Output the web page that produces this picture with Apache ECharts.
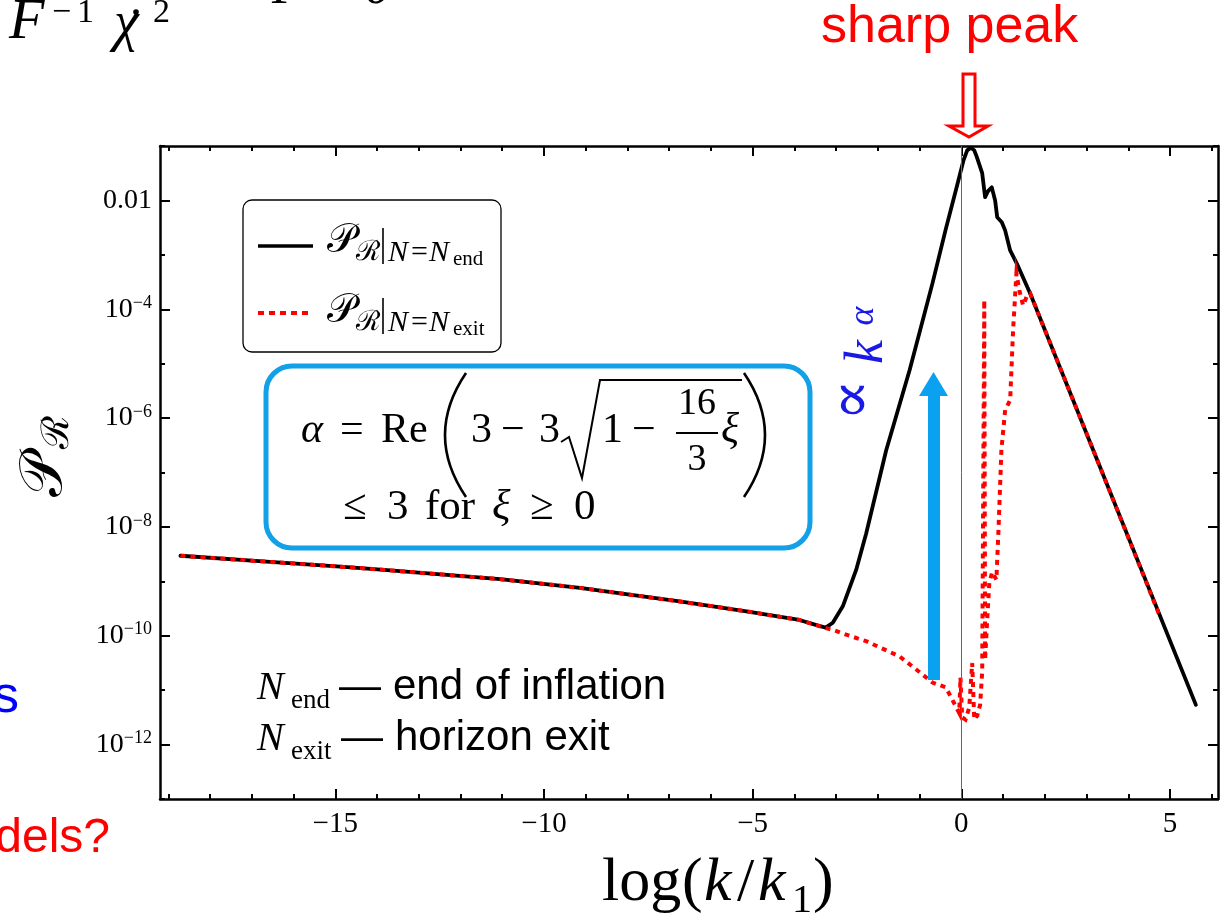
<!DOCTYPE html>
<html><head><meta charset="utf-8">
<script src="https://cdn.jsdelivr.net/npm/echarts@6/dist/echarts.min.js"></script>
<style>html,body{margin:0;padding:0;background:#fff}#c{width:1225px;height:924px}</style>
</head><body><div id="c"></div>
<script>
// ---- data (x = log(k/k1), y = log10 of P_R) ----
const xTicksMajor = [-15, -10, -5, 0, 5];
const xTickLabels = ['\u221215', '\u221210', '\u22125', '0', '5'];
const xTicksMinor = [-19, -18, -17, -16, -14, -13, -12, -11, -9, -8, -7, -6, -4, -3, -2, -1, 1, 2, 3, 4, 6];
const yTicksMajor = [-12, -10, -8, -6, -4, -2];
const yTickLabels = ['10^\u221212', '10^\u221210', '10^\u22128', '10^\u22126', '10^\u22124', '0.01'];
const yTicksMinor = [-13, -11, -9, -7, -5, -3, -1];

const blackX = [-18.71, -17.0, -14.88, -13.83, -11.05, -9.14, -6.75, -5.15, -3.88, -3.45, -3.25, -3.08, -2.84, -2.52, -2.28, -1.80, -1.24, -0.69, -0.38, -0.10, 0.05, 0.14, 0.23, 0.31, 0.37, 0.50, 0.57, 0.64, 0.73, 0.81, 0.86, 0.97, 1.05, 1.17, 1.33, 1.65, 3.13, 5.62];
const blackLog = [-8.53, -8.62, -8.73, -8.79, -8.96, -9.12, -9.37, -9.55, -9.71, -9.81, -9.85, -9.76, -9.46, -8.79, -8.12, -6.59, -5.12, -3.52, -2.55, -1.72, -1.27, -1.08, -1.03, -1.08, -1.20, -1.50, -1.94, -1.83, -1.76, -2.00, -2.31, -2.40, -2.55, -2.92, -3.16, -3.71, -6.53, -11.27];

const redX = [-18.71, -17.0, -14.88, -13.83, -11.05, -9.14, -6.75, -5.15, -3.88, -3.45, -3.25, -3.08, -2.76, -2.28, -1.48, -1.08, -0.69, -0.37, -0.22, -0.05, -0.02, 0.02, 0.10, 0.19, 0.26, 0.31, 0.38, 0.45, 0.50, 0.55, 0.57, 0.62, 0.67, 0.74, 0.84, 0.89, 0.96, 1.05, 1.17, 1.24, 1.32, 1.39, 1.48, 1.58, 1.65, 3.13, 4.74];
const redLog = [-8.53, -8.62, -8.73, -8.79, -8.96, -9.12, -9.37, -9.55, -9.71, -9.81, -9.86, -9.89, -9.98, -10.10, -10.38, -10.62, -10.86, -10.95, -11.17, -11.42, -10.77, -11.50, -11.54, -11.32, -10.50, -11.54, -11.47, -11.27, -10.66, -3.83, -10.44, -9.71, -9.03, -8.83, -8.97, -8.06, -6.59, -5.85, -5.67, -4.39, -3.34, -3.65, -3.93, -3.74, -3.71, -6.53, -9.61];

const XMIN = -19.2, XMAX = 6.15, YMIN = -13, YMAX = -1;

// ---- styling helpers ----
const SERIF = "'Liberation Serif','DejaVu Serif',serif";
const SANS = "'Liberation Sans',Arial,sans-serif";
function txt(s, x, base, fs, o) {
  o = o || {};
  return {type: 'text', x: x, y: base - 0.34 * fs, z: 100, silent: true,
    style: {text: s, x: 0, y: 0, fontSize: fs, fontFamily: o.ff || SERIF,
      fontStyle: o.it ? 'italic' : 'normal', fill: o.c || '#000',
      align: o.al || 'left', textAlign: o.al || 'left', verticalAlign: 'middle', textVerticalAlign: 'middle'}};
}
function rtxt(s, cx, cy, fs, o) {
  o = o || {};
  return {type: 'text', x: cx, y: cy, rotation: Math.PI / 2, z: 100, silent: true,
    style: {text: s, x: 0, y: 0, fontSize: fs, fontFamily: o.ff || SERIF,
      fontStyle: o.it ? 'italic' : 'normal', fill: o.c || '#000',
      align: 'center', textAlign: 'center', verticalAlign: 'middle', textVerticalAlign: 'middle'}};
}
function ln(x1, y1, x2, y2, c, w, dash) {
  return {type: 'line', z: 100, silent: true, shape: {x1, y1, x2, y2},
    style: {stroke: c, lineWidth: w, lineDash: dash || null, lineCap: 'butt'}};
}

const axisBase = (pos, ticks, len, showLine) => ({
  type: 'value', position: pos, min: null, max: null,
  axisLine: {show: showLine, onZero: false, lineStyle: {color: '#000', width: 2.5}},
  axisTick: {show: true, inside: true, length: len, customValues: ticks, lineStyle: {color: '#000', width: 2}},
  axisLabel: {show: false},
  splitLine: {show: false}
});
function xa(pos, ticks, len, showLine) { const a = axisBase(pos, ticks, len, showLine); a.min = XMIN; a.max = XMAX; return a; }
function ya(pos, ticks, len, showLine) { const a = axisBase(pos, ticks, len, showLine); a.min = YMIN; a.max = YMAX; return a; }

const xMain = xa('bottom', xTicksMajor, 10, true);
xMain.axisLabel = {show: true, customValues: xTicksMajor, margin: 11, color: '#000', fontSize: 29, fontFamily: SERIF,
  formatter: v => xTickLabels[xTicksMajor.indexOf(v)]};
const yMain = ya('left', yTicksMajor, 10, true);
yMain.axisLabel = {show: true, customValues: yTicksMajor, margin: 8, color: '#000',
  formatter: v => { const s = yTickLabels[yTicksMajor.indexOf(v)]; if (s.indexOf('^') < 0) return '{b|' + s + '}'; const p = s.split('^'); return '{b|' + p[0] + '}{s|' + p[1] + '}'; },
  rich: {b: {fontSize: 28, fontFamily: SERIF, color: '#000', lineHeight: 30},
         s: {fontSize: 18, fontFamily: SERIF, color: '#000', verticalAlign: 'top', lineHeight: 18}}};

const blackData = blackX.map((x, i) => [x, blackLog[i]]);
const redData = redX.map((x, i) => [x, redLog[i]]);

const BLUE = '#1a1ae6';
const graphics = [
  // top-left cut-off formula
  txt('F', 9, 42, 58, {it: true}),
  txt('\u2212', 52, 25, 34), txt('1', 77, 25, 34),
  txt('\u03c7', 114, 44, 56, {it: true}),
  {type: 'circle', z: 100, shape: {cx: 136, cy: 12, r: 2.8}, style: {fill: '#000'}},
  txt('2', 153, 25, 34),
  txt('P = 0', 272, 7, 52, {it: true}),
  // sharp peak annotation
  txt('sharp peak', 821, 45, 52, {ff: SANS, c: '#ff0000'}),
  {type: 'polygon', z: 100, shape: {points: [[963, 74], [975, 74], [975, 126], [988, 126], [969, 137], [949, 126], [963, 126]]},
    style: {fill: '#fff', stroke: '#ff0000', lineWidth: 3}},
  // legend
  {type: 'rect', z: 99, shape: {x: 243, y: 200, width: 258, height: 152, r: 9}, style: {fill: '#fff', stroke: '#000', lineWidth: 1.3}},
  ln(258, 246, 313, 246, '#000', 3.5),
  ln(258, 313, 313, 313, '#ff0000', 4, [6, 5]),
  txt('\ud835\udcab', 327, 255, 40),
  txt('\u211b', 356, 262, 28),
  ln(383, 228, 383, 264, '#000', 1.6),
  txt('N', 388, 263, 30, {it: true}), txt('=', 411, 263, 30), txt('N', 429, 263, 30, {it: true}),
  txt('end', 453, 267, 21),
  txt('\ud835\udcab', 327, 325, 40),
  txt('\u211b', 356, 332, 28),
  ln(383, 298, 383, 334, '#000', 1.6),
  txt('N', 388, 333, 30, {it: true}), txt('=', 411, 333, 30), txt('N', 429, 333, 30, {it: true}),
  txt('exit', 453, 337, 21),
  // blue formula box
  {type: 'rect', z: 99, shape: {x: 266, y: 366, width: 544, height: 182, r: 26}, style: {fill: 'none', stroke: '#12a0e6', lineWidth: 5}},
  txt('\u03b1', 301, 445, 42, {it: true}),
  txt('=', 340, 445, 42),
  txt('Re', 381, 445, 42),
  {type: 'bezierCurve', z: 100, shape: {x1: 466, y1: 373, x2: 466, y2: 497, cpx1: 424, cpy1: 435}, style: {fill: 'none', stroke: '#000', lineWidth: 2.6}},
  txt('3', 471, 445, 42), txt('\u2212', 501, 445, 42), txt('3', 539, 445, 42),
  {type: 'polyline', z: 100, shape: {points: [[561, 442], [569, 437], [582, 478], [600, 380], [742, 380]]}, style: {fill: 'none', stroke: '#000', lineWidth: 2}},
  txt('1', 602, 445, 42), txt('\u2212', 632, 445, 42),
  txt('16', 697, 417, 38, {al: 'center'}), ln(676, 433, 718, 433, '#000', 2), txt('3', 697, 473, 38, {al: 'center'}),
  txt('\u03be', 721, 445, 42, {it: true}),
  {type: 'bezierCurve', z: 100, shape: {x1: 744, y1: 373, x2: 744, y2: 497, cpx1: 786, cpy1: 435}, style: {fill: 'none', stroke: '#000', lineWidth: 2.6}},
  txt('\u2264', 343, 522, 43), txt('3', 387, 522, 43), txt('for', 425, 522, 43),
  txt('\u03be', 492, 522, 43, {it: true}), txt('\u2265', 530, 522, 43), txt('0', 574, 522, 43),
  // blue arrow and proportional label
  {type: 'rect', z: 100, shape: {x: 928, y: 395, width: 12, height: 285}, style: {fill: '#0aa2f0'}},
  {type: 'polygon', z: 100, shape: {points: [[919, 396], [948, 396], [933.5, 372]]}, style: {fill: '#0aa2f0'}},
  rtxt('\u221d', 855, 400, 62, {ff: "'DejaVu Serif',serif", c: BLUE}),
  rtxt('k', 868, 352, 54, {it: true, c: BLUE}),
  rtxt('\u03b1', 864, 316, 36, {it: true, c: BLUE}),
  // N labels
  txt('N', 257, 702, 40, {it: true}), txt('end', 291, 710, 27),
  txt('\u2014', 339, 702, 42, {ff: SANS}), txt('end of inflation', 393, 702, 42, {ff: SANS}),
  txt('N', 257, 753, 40, {it: true}), txt('exit', 291, 761, 27),
  txt('\u2014', 341, 753, 42, {ff: SANS}), txt('horizon exit', 395, 753, 42, {ff: SANS}),
  // left cut-off slide text
  txt('s', 19, 715, 52, {ff: SANS, c: '#0000ff', al: 'right'}),
  txt('dels?', 110, 855, 48, {ff: SANS, c: '#ff0000', al: 'right'}),
  // axis titles
  txt('log', 602, 905, 62), txt('(', 682, 905, 62), txt('k', 704, 905, 62, {it: true}),
  txt('/', 737, 905, 62), txt('k', 758, 905, 62, {it: true}), txt('1', 792, 915, 40), txt(')', 813, 905, 62),
  rtxt('\ud835\udcab', 45, 475, 60),
  rtxt('\u211b', 58, 432, 38)
];

const chart = echarts.init(document.getElementById('c'), null, {renderer: 'canvas'});
chart.setOption({
  animation: false,
  backgroundColor: '#fff',
  grid: {left: 160, right: 7, top: 146, bottom: 125, containLabel: false},
  xAxis: [xMain, xa('bottom', xTicksMinor, 5, false), xa('top', xTicksMajor, 10, true), xa('top', xTicksMinor, 5, false)],
  yAxis: [yMain, ya('left', yTicksMinor, 5, false), ya('right', yTicksMajor, 10, true), ya('right', yTicksMinor, 5, false)],
  series: [
    {type: 'line', name: 'end', data: blackData, xAxisIndex: 0, yAxisIndex: 0, showSymbol: false, symbol: 'none',
      lineStyle: {color: '#000', width: 3.8, cap: 'round', join: 'round'}, z: 3,
      markLine: {silent: true, symbol: ['none', 'none'], label: {show: false}, animation: false,
        lineStyle: {color: '#666', width: 1, type: 'solid'}, data: [{xAxis: 0}]}},
    {type: 'line', name: 'exit', data: redData, xAxisIndex: 0, yAxisIndex: 0, showSymbol: false, symbol: 'none',
      lineStyle: {color: '#ff0000', width: 4, type: [5, 5], cap: 'butt', join: 'miter'}, z: 4}
  ],
  graphic: graphics
});
</script>
</body></html>
